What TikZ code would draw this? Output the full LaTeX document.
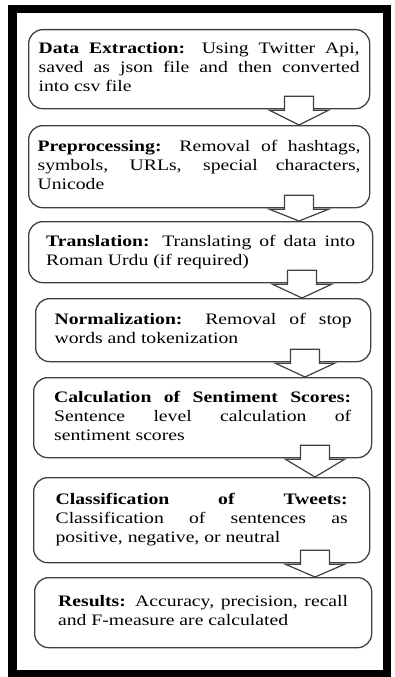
\documentclass[tikz,border=0pt]{standalone}
\usepackage{fontspec}
\setmainfont{Liberation Serif}[FakeStretch=1.23]
\usetikzlibrary{calc}
\begin{document}
\begin{tikzpicture}[x=1pt, y=-1pt]
	\tikzset{etape/.style={draw=black!75, line width=1.3pt, rounded corners=14pt, anchor=north west, inner sep=0pt, align=justify, font=\fontsize{16}{19}\selectfont, execute at begin node={\tolerance=10000\hbadness=10000\hyphenpenalty=10000\strut}, execute at end node=\strut}, fleche/.style={draw=black!75, line width=1.2pt, fill=white, line join=miter}};

	\useasboundingbox (0,0) rectangle (394,677);
	\draw[line width=8.5pt] (12.5,9) rectangle (387,674);

	\node[etape, minimum width=341pt, minimum height=79pt, text width=321pt] (b1) at ( 28,  29) {\textbf{Data Extraction:} Using Twitter Api,\linebreak saved as json file and then converted\linebreak into csv file};
	\node[etape, minimum width=341pt, minimum height=82pt, text width=323pt] (b2) at ( 28, 125) {\textbf{Preprocessing:} Removal of hashtags,\linebreak symbols, URLs, special characters,\linebreak Unicode};
	\node[etape, minimum width=344pt, minimum height=61pt, text width=309pt] (b3) at ( 28, 221) {\textbf{Translation:} Translating of data into\linebreak Roman Urdu (if required)};
	\node[etape, minimum width=335pt, minimum height=63pt, text width=297pt] (b4) at ( 35, 298) {\textbf{Normalization:} Removal of stop\linebreak words and tokenization};
	\node[etape, minimum width=338pt, minimum height=80pt, text width=297pt] (b5) at ( 33, 377) {\textbf{Calculation of Sentiment Scores:}\linebreak Sentence level calculation of\linebreak sentiment scores};
	\node[etape, minimum width=336pt, minimum height=85pt, text width=292pt] (b6) at ( 33, 477) {\textbf{Classification of Tweets:}\linebreak Classification of sentences as\linebreak positive, negative, or neutral};
	\node[etape, minimum width=337pt, minimum height=70pt, text width=290pt] (b7) at ( 34, 577) {\textbf{Results:} Accuracy, precision, recall\linebreak and F-measure are calculated};

	\foreach \haut/\bas/\xf in {b1/b2/299, b2/b3/299, b3/b4/302, b4/b5/305, b5/b6/315, b6/b7/315} {
		\coordinate (h) at (\xf,0 |- \haut.south);
		\draw[fleche] ($(h)+(-14.5,-13)$) -- ++(29,0) -- ++(0,14) -- ++(15,0) -- (\xf,0 |- \bas.north) -- ($(h)+(-29.5,1)$) -- ++(15,0) -- cycle;
	}

\end{tikzpicture}
\end{document}
